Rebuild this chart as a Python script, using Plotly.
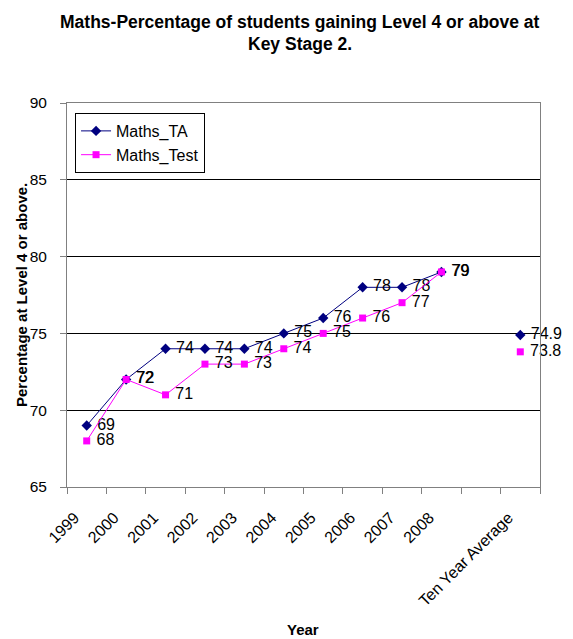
import plotly.graph_objects as go

# Categories along the x axis (a blank slot separates the yearly data from the average)
categories = ["1999", "2000", "2001", "2002", "2003", "2004", "2005", "2006",
              "2007", "2008", " ", "Ten Year Average"]

# Percentage of pupils at Level 4 or above
maths_ta = [69, 72, 74, 74, 74, 75, 76, 78, 78, 79, None, 74.9]
maths_test = [68, 72, 71, 73, 73, 74, 75, 76, 77, 79, None, 73.8]

y_ticks = [65, 70, 75, 80, 85, 90]

title_lines = ["Maths-Percentage of students gaining Level 4 or above at",
               "Key Stage 2."]
x_title = "Year"
y_title = "Percentage at Level 4 or above."

FONT = "Liberation Sans, Arial, sans-serif"
NBSP = "\u00a0"


def fmt(v):
    # value label, nudged away from its marker
    return "" if v is None else NBSP + f"{v:g}"


fig = go.Figure()

fig.add_trace(go.Scatter(
    x=categories, y=maths_ta, name="Maths_TA",
    mode="lines+markers+text",
    line=dict(color="#000080", width=1),
    marker=dict(symbol="diamond", size=8, color="#000080"),
    text=[fmt(v) for v in maths_ta], textposition="middle right",
    textfont=dict(family=FONT, size=16, color="black"),
    connectgaps=False, cliponaxis=False,
))

fig.add_trace(go.Scatter(
    x=categories, y=maths_test, name="Maths_Test",
    mode="lines+markers+text",
    line=dict(color="#FF00FF", width=1),
    marker=dict(symbol="square", size=7, color="#FF00FF"),
    text=[fmt(v) for v in maths_test], textposition="middle right",
    textfont=dict(family=FONT, size=16, color="black"),
    connectgaps=False, cliponaxis=False,
))

# Two-line bold title
for line, ypos in zip(title_lines, [1.211, 1.153]):
    fig.add_annotation(
        text=f"<b>{line}</b>", xref="paper", yref="paper",
        x=0.4926, y=ypos, xanchor="center", yanchor="middle", showarrow=False,
        font=dict(family=FONT, size=17.5, color="black"),
    )

# Axis titles
fig.add_annotation(
    text=f"<b>{x_title}</b>", xref="paper", yref="paper",
    x=0.499, y=-0.372, xanchor="center", yanchor="middle", showarrow=False,
    font=dict(family=FONT, size=15, color="black"),
)
fig.add_annotation(
    text=f"<b>{y_title}</b>", xref="paper", yref="paper", textangle=-90,
    x=-0.0973, y=0.5, xanchor="center", yanchor="middle", showarrow=False,
    font=dict(family=FONT, size=15, color="black"),
)

fig.update_layout(
    width=573, height=639,
    margin=dict(l=67, r=33, t=103, b=152),
    paper_bgcolor="white", plot_bgcolor="white",
    font=dict(family=FONT, color="black"),
    showlegend=True,
    legend=dict(
        x=0.017, y=0.974, xanchor="left", yanchor="top",
        bgcolor="white", bordercolor="black", borderwidth=1,
        font=dict(family=FONT, size=16, color="black"),
        tracegroupgap=0, itemwidth=30,
    ),
)

fig.update_xaxes(
    type="category", categoryorder="array", categoryarray=categories,
    tickson="boundaries", ticks="outside", ticklen=6, tickcolor="#808080",
    tickangle=-45, tickfont=dict(family=FONT, size=16),
    ticklabelstandoff=14, ticklabelshift=-12,
    showline=True, linecolor="#808080", linewidth=1, mirror=True,
    showgrid=False, range=[-0.5, len(categories) - 0.5],
    automargin=False,
)

fig.update_yaxes(
    range=[65, 90], tickvals=y_ticks,
    ticks="outside", ticklen=6, tickcolor="#808080",
    tickfont=dict(family=FONT, size=15.5), ticklabelstandoff=10,
    showline=True, linecolor="#808080", linewidth=1, mirror=True,
    showgrid=True, gridcolor="black", gridwidth=1, zeroline=False,
    automargin=False,
)

fig.write_html("out.html")
